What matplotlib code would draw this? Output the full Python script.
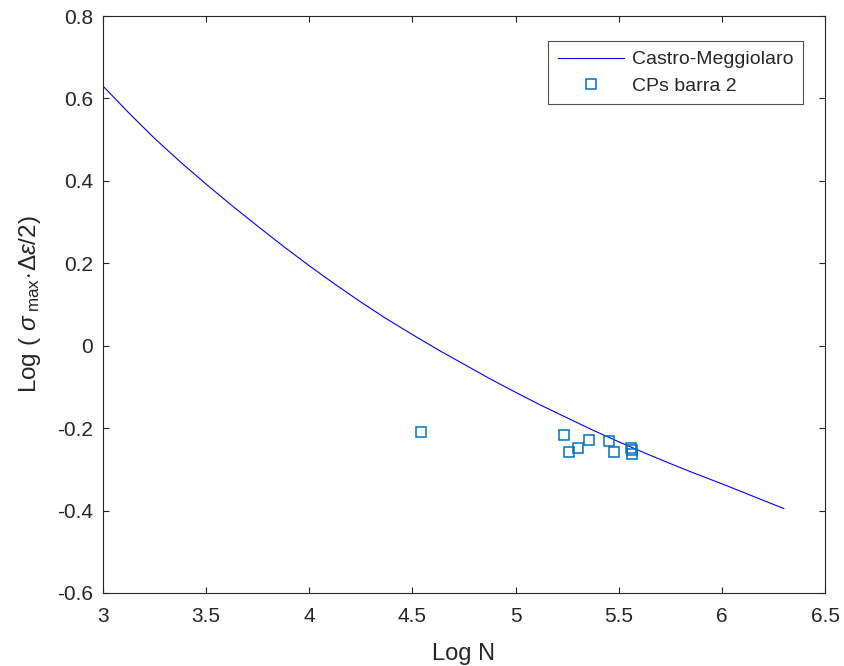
"""Castro-Meggiolaro curve vs. specimen points (barra 2)."""

import matplotlib

matplotlib.use("Agg")
import matplotlib.pyplot as plt

# Castro-Meggiolaro curve
curve_log_n = [3.0, 3.125, 3.25, 3.375, 3.5, 3.625, 3.75, 3.875, 4.0, 4.125, 4.25,
               4.375, 4.5, 4.625, 4.75, 4.875, 5.0, 5.125, 5.25, 5.375, 5.5, 5.625,
               5.75, 5.875, 6.0, 6.125, 6.3]
curve_log_s = [0.630, 0.565, 0.503, 0.446, 0.392, 0.340, 0.290, 0.241, 0.194, 0.149,
               0.106, 0.065, 0.027, -0.010, -0.045, -0.080, -0.113, -0.145, -0.175,
               -0.205, -0.233, -0.260, -0.286, -0.311, -0.335, -0.360, -0.395]

# specimens (CPs barra 2)
cp_log_n = [4.540, 5.236, 5.260, 5.303, 5.357, 5.453, 5.479, 5.559, 5.566, 5.566]
cp_log_s = [-0.209, -0.216, -0.257, -0.249, -0.229, -0.232, -0.258, -0.248, -0.253, -0.263]

x_ticks = [3, 3.5, 4, 4.5, 5, 5.5, 6, 6.5]
x_tick_labels = ["3", "3.5", "4", "4.5", "5", "5.5", "6", "6.5"]
y_ticks = [-0.6, -0.4, -0.2, 0, 0.2, 0.4, 0.6, 0.8]
y_tick_labels = ["-0.6", "-0.4", "-0.2", "0", "0.2", "0.4", "0.6", "0.8"]

plt.rcParams["font.family"] = ["Liberation Sans", "DejaVu Sans"]
plt.rcParams["mathtext.fontset"] = "custom"
plt.rcParams["mathtext.rm"] = "Liberation Sans"
plt.rcParams["mathtext.it"] = "Liberation Sans:italic"
plt.rcParams["axes.unicode_minus"] = False

dark = "#262626"

fig = plt.figure(figsize=(8.44, 6.66), dpi=100)
ax = fig.add_axes([103 / 844, 1 - 593 / 666, (825 - 103) / 844, (593 - 16) / 666])

ax.plot(curve_log_n, curve_log_s, color=(0, 0, 1), linewidth=0.8, label="Castro-Meggiolaro")
ax.plot(cp_log_n, cp_log_s, linestyle="none", marker="s", markersize=7.5,
        markerfacecolor="none", markeredgecolor="#0072BD", markeredgewidth=1.1,
        label="CPs barra 2")

ax.set_xlim(3, 6.5)
ax.set_ylim(-0.6, 0.8)
ax.set_xticks(x_ticks, x_tick_labels)
ax.set_yticks(y_ticks, y_tick_labels)
ax.tick_params(direction="in", length=4, width=0.8, colors=dark, labelsize=15,
               top=True, right=True)
ax.tick_params(axis="x", pad=10)
ax.tick_params(axis="y", pad=7)
for spine in ax.spines.values():
    spine.set_color(dark)
    spine.set_linewidth(0.8)

ax.set_xlabel("Log N", fontsize=17, color=dark, labelpad=12)
ax.set_ylabel(r"Log ( $\sigma_{\ \rm max}\!\cdot\!\Delta\epsilon$/2)", fontsize=17.5,
              color=dark, labelpad=10)

leg = ax.legend(loc="upper right", bbox_to_anchor=(803 / 844, 1 - 41 / 666),
                bbox_transform=fig.transFigure, borderaxespad=0, fontsize=14,
                frameon=True, fancybox=False, handlelength=3.4, handletextpad=0.4,
                borderpad=0.5, labelspacing=0.45)
leg.get_frame().set_edgecolor(dark)
leg.get_frame().set_linewidth(0.8)
for text in leg.get_texts():
    text.set_color(dark)

fig.savefig("out.png", dpi=100)
